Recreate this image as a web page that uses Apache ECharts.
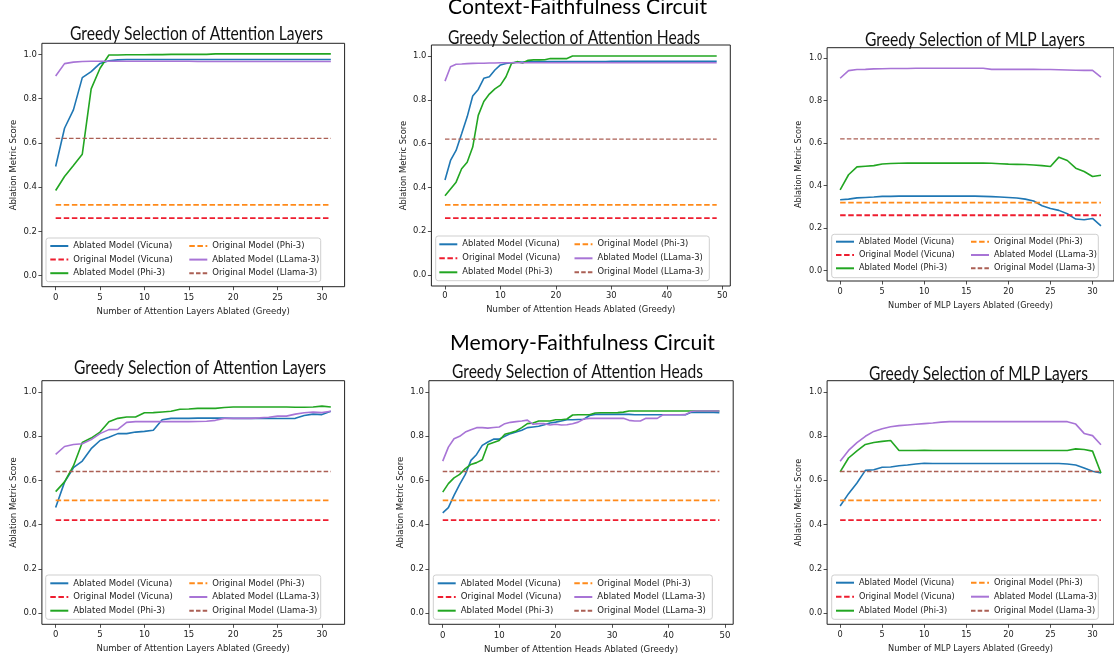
<!DOCTYPE html>
<html><head><meta charset="utf-8">
<script src="https://cdn.jsdelivr.net/npm/echarts@6/dist/echarts.min.js"></script>
<style>html,body{margin:0;padding:0;background:#fff}#c{width:1114px;height:657px}</style>
</head><body><div id="c"></div>
<script>
// ---------------- DATA ----------------
const xLayers = [0,1,2,3,4,5,6,7,8,9,10,11,12,13,14,15,16,17,18,19,20,21,22,23,24,25,26,27,28,29,30,31];
const xHeads = [0,1,2,3,4,5,6,7,8,9,10,11,12,13,14,15,16,17,18,19,20,21,22,23,24,25,26,27,28,29,30,31,32,33,34,35,36,37,38,39,40,41,42,43,44,45,46,47,48,49];
const yTickValues = [0, 0.2, 0.4, 0.6, 0.8, 1.0];
const xTicksLayers = [0, 5, 10, 15, 20, 25, 30];
const xTicksHeads = [0, 10, 20, 30, 40, 50];

// Context-Faithfulness Circuit
const ctxLayersVicuna = [0.493,0.666,0.749,0.895,0.922,0.959,0.971,0.975,0.977,0.977,0.977,0.977,0.977,0.977,0.977,0.977,0.977,0.977,0.977,0.977,0.977,0.977,0.977,0.977,0.977,0.977,0.977,0.977,0.977,0.977,0.977,0.977];
const ctxLayersPhi3 = [0.385,0.448,0.498,0.549,0.844,0.937,0.997,0.997,0.998,0.998,0.998,0.999,0.999,1.000,1.000,1.000,1.000,1.000,1.002,1.002,1.002,1.002,1.002,1.002,1.002,1.002,1.002,1.002,1.002,1.002,1.002,1.002];
const ctxLayersLlama3 = [0.902,0.958,0.965,0.968,0.969,0.969,0.969,0.969,0.969,0.969,0.969,0.969,0.969,0.969,0.969,0.969,0.968,0.968,0.968,0.968,0.968,0.968,0.968,0.968,0.968,0.968,0.968,0.968,0.968,0.968,0.968,0.968];

const ctxHeadsVicuna = [0.434,0.523,0.569,0.645,0.722,0.817,0.847,0.898,0.905,0.936,0.959,0.966,0.969,0.971,0.972,0.973,0.973,0.974,0.974,0.974,0.975,0.975,0.975,0.975,0.975,0.975,0.975,0.975,0.975,0.975,0.976,0.976,0.976,0.976,0.976,0.976,0.976,0.976,0.976,0.976,0.976,0.976,0.976,0.976,0.976,0.976,0.976,0.976,0.976,0.976];
const ctxHeadsPhi3 = [0.362,0.393,0.424,0.485,0.515,0.584,0.729,0.792,0.826,0.850,0.867,0.905,0.966,0.974,0.968,0.980,0.982,0.982,0.983,0.988,0.988,0.988,0.988,1.000,1.000,1.000,1.000,1.000,1.000,1.000,1.000,1.000,1.000,1.000,1.000,1.000,1.000,1.000,1.000,1.000,1.000,1.000,1.000,1.000,1.000,1.000,1.000,1.000,1.000,1.000];
const ctxHeadsLlama3 = [0.885,0.951,0.962,0.963,0.965,0.966,0.967,0.967,0.968,0.968,0.969,0.969,0.969,0.969,0.969,0.969,0.969,0.969,0.969,0.969,0.969,0.969,0.969,0.969,0.969,0.969,0.969,0.969,0.969,0.969,0.969,0.969,0.969,0.969,0.969,0.969,0.969,0.969,0.969,0.969,0.969,0.969,0.969,0.969,0.969,0.969,0.969,0.969,0.969,0.969];

const ctxMlpVicuna = [0.333,0.336,0.342,0.344,0.346,0.349,0.349,0.350,0.350,0.350,0.350,0.350,0.350,0.350,0.350,0.350,0.350,0.349,0.348,0.346,0.344,0.341,0.336,0.327,0.305,0.292,0.283,0.267,0.242,0.239,0.245,0.210];
const ctxMlpPhi3 = [0.380,0.451,0.488,0.491,0.494,0.502,0.504,0.505,0.506,0.506,0.506,0.506,0.506,0.506,0.506,0.506,0.506,0.506,0.505,0.503,0.501,0.500,0.499,0.497,0.494,0.490,0.534,0.518,0.482,0.466,0.443,0.449];
const ctxMlpLlama3 = [0.906,0.942,0.947,0.948,0.950,0.951,0.952,0.952,0.952,0.953,0.953,0.953,0.953,0.953,0.953,0.953,0.953,0.953,0.948,0.948,0.948,0.948,0.948,0.948,0.947,0.947,0.946,0.945,0.944,0.943,0.943,0.911];

const ctxOriginal = [0.26, 0.32, 0.62]; // Vicuna, Phi-3, Llama-3

// Memory-Faithfulness Circuit
const memLayersVicuna = [0.477,0.592,0.657,0.687,0.743,0.780,0.795,0.811,0.811,0.818,0.821,0.826,0.874,0.880,0.880,0.880,0.881,0.881,0.881,0.881,0.880,0.880,0.880,0.880,0.880,0.879,0.879,0.880,0.893,0.899,0.897,0.912];
const memLayersPhi3 = [0.549,0.593,0.665,0.771,0.791,0.818,0.865,0.880,0.886,0.886,0.905,0.906,0.909,0.912,0.921,0.922,0.925,0.925,0.925,0.929,0.931,0.931,0.931,0.931,0.931,0.931,0.931,0.930,0.930,0.931,0.935,0.931];
const memLayersLlama3 = [0.717,0.753,0.762,0.765,0.784,0.811,0.829,0.830,0.862,0.865,0.865,0.865,0.865,0.865,0.865,0.865,0.866,0.867,0.871,0.880,0.880,0.880,0.880,0.882,0.885,0.890,0.890,0.899,0.905,0.908,0.906,0.912];

const memHeadsVicuna = [0.453,0.477,0.532,0.582,0.627,0.690,0.717,0.758,0.773,0.786,0.786,0.799,0.811,0.818,0.826,0.838,0.841,0.844,0.851,0.859,0.863,0.868,0.874,0.874,0.875,0.876,0.893,0.898,0.898,0.898,0.898,0.898,0.898,0.898,0.896,0.896,0.896,0.896,0.896,0.896,0.896,0.896,0.896,0.896,0.907,0.907,0.907,0.907,0.907,0.906];
const memHeadsPhi3 = [0.547,0.585,0.611,0.627,0.653,0.672,0.680,0.693,0.762,0.771,0.780,0.808,0.815,0.823,0.838,0.856,0.859,0.868,0.868,0.868,0.874,0.874,0.877,0.895,0.896,0.896,0.896,0.904,0.905,0.905,0.905,0.906,0.908,0.913,0.913,0.913,0.913,0.913,0.913,0.913,0.913,0.913,0.913,0.913,0.913,0.913,0.913,0.913,0.913,0.913];
const memHeadsLlama3 = [0.687,0.750,0.788,0.799,0.818,0.829,0.838,0.838,0.836,0.839,0.841,0.856,0.862,0.865,0.868,0.872,0.853,0.856,0.856,0.850,0.853,0.850,0.851,0.856,0.863,0.877,0.880,0.880,0.880,0.880,0.880,0.880,0.880,0.871,0.868,0.868,0.880,0.880,0.880,0.896,0.896,0.896,0.896,0.897,0.911,0.913,0.913,0.913,0.913,0.913];

const memMlpVicuna = [0.484,0.540,0.588,0.645,0.648,0.659,0.660,0.666,0.669,0.674,0.677,0.676,0.676,0.676,0.676,0.676,0.676,0.676,0.676,0.676,0.676,0.676,0.676,0.676,0.676,0.676,0.676,0.674,0.669,0.656,0.641,0.633];
const memMlpPhi3 = [0.638,0.701,0.733,0.762,0.771,0.776,0.780,0.735,0.735,0.735,0.736,0.735,0.735,0.735,0.735,0.735,0.735,0.735,0.735,0.735,0.735,0.735,0.735,0.735,0.735,0.735,0.735,0.735,0.742,0.739,0.732,0.633];
const memMlpLlama3 = [0.686,0.735,0.770,0.799,0.821,0.833,0.842,0.847,0.850,0.853,0.856,0.859,0.863,0.865,0.865,0.865,0.865,0.865,0.865,0.865,0.865,0.865,0.865,0.865,0.865,0.865,0.865,0.865,0.854,0.812,0.802,0.761];

const memOriginal = [0.42, 0.51, 0.64]; // Vicuna, Phi-3, Llama-3

// Text
const circuitTitles = ['Context-Faithfulness Circuit', 'Memory-Faithfulness Circuit'];
const panelTitles = ['Greedy Selection of Attention Layers','Greedy Selection of Attention Heads','Greedy Selection of MLP Layers','Greedy Selection of Attention Layers','Greedy Selection of Attention Heads','Greedy Selection of MLP Layers'];
const xAxisNames = ['Number of Attention Layers Ablated (Greedy)','Number of Attention Heads Ablated (Greedy)','Number of MLP Layers Ablated (Greedy)','Number of Attention Layers Ablated (Greedy)','Number of Attention Heads Ablated (Greedy)','Number of MLP Layers Ablated (Greedy)'];
const yAxisName = 'Ablation Metric Score';
const seriesLabels = ['Ablated Model (Vicuna)','Original Model (Vicuna)','Ablated Model (Phi-3)','Original Model (Phi-3)','Ablated Model (LLama-3)'];
const origLlamaLabels = ['Original Model (Llama-3)','Original Model (LLama-3)','Original Model (Llama-3)','Original Model (Llama-3)','Original Model (LLama-3)','Original Model (Llama-3)'];

// ---------------- PANELS ----------------
const panelData = [
  {x: xLayers, xt: xTicksLayers, ab: [ctxLayersVicuna, ctxLayersPhi3, ctxLayersLlama3], orig: ctxOriginal},
  {x: xHeads,  xt: xTicksHeads,  ab: [ctxHeadsVicuna, ctxHeadsPhi3, ctxHeadsLlama3], orig: ctxOriginal},
  {x: xLayers, xt: xTicksLayers, ab: [ctxMlpVicuna, ctxMlpPhi3, ctxMlpLlama3], orig: ctxOriginal},
  {x: xLayers, xt: xTicksLayers, ab: [memLayersVicuna, memLayersPhi3, memLayersLlama3], orig: memOriginal},
  {x: xHeads,  xt: xTicksHeads,  ab: [memHeadsVicuna, memHeadsPhi3, memHeadsLlama3], orig: memOriginal},
  {x: xLayers, xt: xTicksLayers, ab: [memMlpVicuna, memMlpPhi3, memMlpLlama3], orig: memOriginal}
];

// layout (pixels)
const layout = [
  {g:[41.9,43.3,302.7,243.4], xr:[-1.55,32.55], fs:8.5, lm:7,   ng:21,   leg:[49.3,188.3,246,13.6], fr:[46,238,274.7,43.7], t:[196.5,34,253]},
  {g:[431.4,45,298.9,241],   xr:[-2.45,51.45], fs:8.4, lm:5.5, ng:19.5, leg:[438.3,573.5,244.3,14], fr:[435.7,236,273.6,44.7], t:[574,38.3,252]},
  {g:[827.1,47.7,291.5,233.3],xr:[-1.55,32.55], fs:8.2, lm:7,   ng:21,   leg:[835,970,241.7,13.3], fr:[831.7,234.3,266.6,43.4], t:[975,40.3,220]},
  {g:[41.9,380.7,302.7,243.6],xr:[-1.55,32.55], fs:8.5, lm:5.5, ng:19.5, leg:[49.3,188.3,583.3,13.7], fr:[45.7,575,275,44.3], t:[200,367.7,252]},
  {g:[428.9,380.7,304.3,243.6],xr:[-2.45,51.45],fs:8.6, lm:7,   ng:20.5, leg:[436.7,573.3,583.3,13.7], fr:[433.3,575,279,44.3], t:[577.5,371.7,251]},
  {g:[827.1,380.7,291.5,243.6],xr:[-1.55,32.55],fs:8.2, lm:6.5, ng:20.5, leg:[835,970,582.7,14], fr:[831.7,575,266.6,44.3], t:[978.5,374.3,219]}
];
const circuitLayout = [[577.5,7.5,259],[582.5,343.3,265]];

const colors = ['#1f77b4','#ee1d2f','#22a622','#ff8a1a','#a874d6','#ab5f54'];
const widths = [1.6,1.8,1.6,1.8,1.6,1.3];
const dashes = [null,[5.5,2.6],null,[5.5,2.6],null,[4.5,2.2]];
const FONT = 'DejaVu Sans';
const TFONT = 'Lato';
const TXT = '#222';

const meas = document.createElement('canvas').getContext('2d');
function textScale(text, size, target) {
  meas.font = size + 'px ' + TFONT;
  return target / meas.measureText(text).width;
}

const grids = [], xAxes = [], yAxes = [], series = [], legends = [], graphics = [];
panelData.forEach((p, i) => {
  const L = layout[i];
  grids.push({left:L.g[0], top:L.g[1], width:L.g[2], height:L.g[3], show:true, borderColor:'#222', borderWidth:1, backgroundColor:'transparent', containLabel:false});
  xAxes.push({
    type:'value', gridIndex:i, min:L.xr[0], max:L.xr[1],
    name:xAxisNames[i], nameLocation:'middle', nameGap:L.ng,
    nameTextStyle:{fontSize:L.fs, fontFamily:FONT, color:TXT},
    axisLine:{show:false, onZero:false},
    axisTick:{show:true, length:3.5, customValues:p.xt, lineStyle:{color:'#222', width:0.8}},
    axisLabel:{customValues:p.xt, fontSize:L.fs, fontFamily:FONT, color:TXT, margin:L.lm},
    splitLine:{show:false}
  });
  yAxes.push({
    type:'value', gridIndex:i, min:-0.05, max:1.05,
    name:yAxisName, nameLocation:'middle', nameGap:24,
    nameTextStyle:{fontSize:L.fs, fontFamily:FONT, color:TXT},
    axisLine:{show:false, onZero:false},
    axisTick:{show:true, length:3.5, customValues:yTickValues, lineStyle:{color:'#222', width:0.8}},
    axisLabel:{customValues:yTickValues, fontSize:L.fs, fontFamily:FONT, color:TXT, margin:5, formatter:v => v.toFixed(1)},
    splitLine:{show:false}
  });
  const names = seriesLabels.concat([origLlamaLabels[i]]);
  const x0 = p.x[0], x1 = p.x[p.x.length - 1];
  const lines = [
    p.x.map((x, k) => [x, p.ab[0][k]]),
    [[x0, p.orig[0]], [x1, p.orig[0]]],
    p.x.map((x, k) => [x, p.ab[1][k]]),
    [[x0, p.orig[1]], [x1, p.orig[1]]],
    p.x.map((x, k) => [x, p.ab[2][k]]),
    [[x0, p.orig[2]], [x1, p.orig[2]]]
  ];
  lines.forEach((d, s) => {
    series.push({
      type:'line', name:names[s], xAxisIndex:i, yAxisIndex:i, data:d,
      symbol:'none', showSymbol:false, animation:false, z:2 + s * 0.01,
      color:colors[s],
      lineStyle:{color:colors[s], width:widths[s], type: dashes[s] ? dashes[s] : 'solid', cap:'butt'}
    });
  });
  const legCommon = {orient:'vertical', itemWidth:18, itemHeight:10, itemGap:L.leg[3] - 10, padding:0,
    selectedMode:false, z:6, itemStyle:{opacity:0, borderWidth:0},
    textStyle:{fontSize:L.fs, fontFamily:FONT, color:TXT, lineHeight:10}};
  legends.push(Object.assign({}, legCommon, {left:L.leg[0], top:L.leg[2] - 5, data:[names[0], names[1], names[2]]}));
  legends.push(Object.assign({}, legCommon, {left:L.leg[1], top:L.leg[2] - 5, data:[names[3], names[4], names[5]]}));
  graphics.push({type:'rect', z:5, shape:{x:L.fr[0], y:L.fr[1], width:L.fr[2], height:L.fr[3], r:2.5},
    style:{fill:'rgba(255,255,255,0.85)', stroke:'#cfcfcf', lineWidth:1}});
  const ts = 18.5;
  graphics.push({type:'text', z:7, x:L.t[0], y:L.t[1], scaleX:textScale(panelTitles[i], ts, L.t[2]),
    style:{text:panelTitles[i], x:0, y:0, align:'center', verticalAlign:'middle', fontSize:ts, fontFamily:TFONT, fill:'#111'}});
});
circuitTitles.forEach((t, i) => {
  const c = circuitLayout[i], ts = 21;
  graphics.push({type:'text', z:7, x:c[0], y:c[1], scaleX:textScale(t, ts, c[2]),
    style:{text:t, x:0, y:0, align:'center', verticalAlign:'middle', fontSize:ts, fontFamily:TFONT, fill:'#000'}});
});

const chart = echarts.init(document.getElementById('c'), null, {renderer:'canvas'});
chart.setOption({
  animation:false,
  backgroundColor:'#ffffff',
  grid:grids, xAxis:xAxes, yAxis:yAxes, series:series, legend:legends, graphic:graphics
});
</script></body></html>
